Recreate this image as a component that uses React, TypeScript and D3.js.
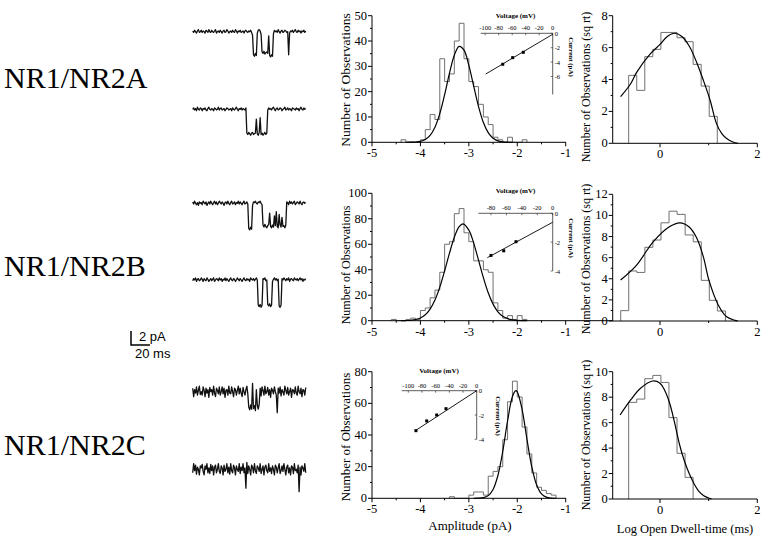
import React from "react";
import * as d3 from "d3";

const SERIF = "Liberation Serif, Times New Roman, DejaVu Serif, serif";
const SANS = "Liberation Sans, Arial, DejaVu Sans, sans-serif";

// ---------------- data ----------------
const rowLabels = ["NR1/NR2A", "NR1/NR2B", "NR1/NR2C"];

// amplitude histograms (pA bins of 0.1)
const ampBinWidth = 0.1;
const ampStartA = -4.4;
const ampCountsA = [1, 0, 0, 0, 1, 5, 11, 9, 33, 24, 27, 40, 47, 33, 24, 22, 15, 10, 7, 2, 1, 0, 2, 0, 0, 1];
const ampStartB = -4.6;
const ampCountsB = [1, 0, 0, 1, 2, 1, 8, 10, 18, 24, 38, 60, 62, 84, 88, 69, 62, 47, 47, 40, 38, 14, 8, 2, 4, 1, 4, 1];
const ampStartC = -3.4;
const ampCountsC = [1, 0, 0, 0, 2, 4, 4, 2, 14, 17, 20, 37, 61, 74, 64, 45, 28, 16, 7, 5, 3, 2];

// gaussian fit curves [amplitude, count]
const ampFitA: [number, number][] = [[-4.3, 0.01], [-4.2, 0.03], [-4.1, 0.11], [-4.0, 0.38], [-3.9, 1.09], [-3.8, 2.72], [-3.7, 5.95], [-3.6, 11.3], [-3.5, 18.8], [-3.4, 27.3], [-3.3, 34.4], [-3.2, 37.9], [-3.1, 36.4], [-3.0, 30.4], [-2.9, 22.2], [-2.8, 14.1], [-2.7, 7.8], [-2.6, 3.8], [-2.5, 1.6], [-2.4, 0.58], [-2.3, 0.19], [-2.2, 0.05], [-2.1, 0.01]];
const ampFitB: [number, number][] = [[-4.4, 0.04], [-4.3, 0.13], [-4.2, 0.36], [-4.1, 0.93], [-4.0, 2.17], [-3.9, 4.65], [-3.8, 9.1], [-3.7, 16.2], [-3.6, 26.4], [-3.5, 39.2], [-3.4, 53.0], [-3.3, 65.5], [-3.2, 73.8], [-3.12, 76], [-3.0, 71.1], [-2.9, 60.9], [-2.8, 47.5], [-2.7, 33.8], [-2.6, 21.9], [-2.5, 13.0], [-2.4, 7.0], [-2.3, 3.5], [-2.2, 1.6], [-2.1, 0.64], [-2.0, 0.24], [-1.9, 0.08], [-1.8, 0.02]];
const ampFitC: [number, number][] = [[-2.9, 0.01], [-2.8, 0.08], [-2.7, 0.42], [-2.6, 1.7], [-2.5, 5.6], [-2.4, 14.4], [-2.3, 29.7], [-2.2, 49.0], [-2.1, 64.3], [-2.03, 68], [-2.0, 67.3], [-1.9, 56.1], [-1.8, 37.3], [-1.7, 19.8], [-1.6, 8.4], [-1.5, 2.8], [-1.4, 0.76], [-1.3, 0.16], [-1.2, 0.03]];

// dwell-time histograms (log ms bins, sqrt counts)
const dwellBinWidth = 0.1656;
const dwellStartA = -0.644;
const dwellCountsA = [4.26, 3.32, 5.43, 5.89, 6.95, 6.95, 6.62, 6.37, 4.95, 3.59, 1.69];
const dwellStartB = -0.808;
const dwellCountsB = [0.98, 4.74, 4.6, 6.98, 7.67, 9.3, 10.4, 10.1, 8.15, 7.5, 3.85, 1.96, 0.95];
const dwellStartC = -0.644;
const dwellCountsC = [7.59, 7.85, 9.45, 9.71, 9.16, 6.39, 3.59, 1.7];

const dwellFitA: [number, number][] = [[-0.81, 2.92], [-0.6, 3.75], [-0.48, 4.45], [-0.2, 5.6], [0, 6.2], [0.15, 6.7], [0.3, 6.9], [0.45, 6.7], [0.6, 6.1], [0.75, 5.1], [0.89, 3.96], [1.03, 2.7], [1.16, 1.25], [1.27, 0.6], [1.37, 0.3], [1.5, 0.08], [1.6, 0]];
const dwellFitB: [number, number][] = [[-0.81, 3.88], [-0.48, 5.3], [-0.14, 7.5], [0.2, 8.94], [0.41, 9.3], [0.6, 8.9], [0.75, 7.9], [0.89, 6.1], [1.01, 3.8], [1.2, 1.5], [1.37, 0.4], [1.54, 0.06], [1.6, 0]];
const dwellFitC: [number, number][] = [[-0.82, 6.6], [-0.6, 7.8], [-0.4, 8.7], [-0.15, 9.27], [0.0, 9.1], [0.1, 8.5], [0.2, 7.5], [0.3, 6.0], [0.4, 4.3], [0.5, 3.0], [0.6, 2.0], [0.7, 1.2], [0.8, 0.6], [0.9, 0.25], [1.0, 0.08], [1.06, 0]];

// I-V insets [mV, pA]
const ivPointsA: [number, number][] = [[-74, -4.3], [-59.3, -3.38], [-43.6, -2.64]];
const ivLineA: [number, number][] = [[-99.3, -5.66], [0, -0.14]];
const ivPointsB: [number, number][] = [[-80, -2.92], [-63.5, -2.6], [-47.6, -1.97]];
const ivLineB: [number, number][] = [[-84.8, -3.08], [0, -0.62]];
const ivPointsC: [number, number][] = [[-88.8, -3.29], [-73.1, -2.49], [-58.5, -2.0], [-44.9, -1.48]];
const ivLineC: [number, number][] = [[-90.3, -3.31], [0, 0]];

// single-channel traces, tenths of pA, 1 ms per sample
const traceA1 = [1,-1,2,0,-2,1,3,-1,0,2,-1,1,0,-2,2,1,-1,3,0,-1,2,0,-1,1,3,-2,0,1,-1,2,0,-2,1,2,-1,0,3,1,-2,0,1,-1,2,0,-1,3,1,-2,1,0,2,-1,0,1,-2,1,2,0,-1,1,0,2,-1,-5,-33,-35,-31,-34,-2,2,3,1,-4,-29,-31,-28,-32,-30,-29,-31,-6,-34,-36,-33,-35,-3,2,0,1,-1,3,0,-2,1,2,-1,0,2,1,-1,0,-33,-2,1,0,2,-1,1,3,0,-1,2,0,1,-2,1,0,2,-1,1];
const traceA2 = [0,2,-1,1,-2,3,0,-1,2,1,-2,1,0,2,-1,-2,1,3,0,-1,1,0,-2,2,1,-1,0,3,-1,1,2,-1,0,1,-2,0,2,1,-1,0,1,-2,2,0,-1,1,3,0,-2,1,0,2,-1,1,0,-1,2,-34,-36,-33,-35,-37,-34,-33,-36,-35,-34,-14,-35,-37,-33,-12,-36,-34,-37,-35,-33,-36,-34,-1,2,0,1,-1,2,3,0,-2,1,2,-1,0,2,1,-2,0,1,3,-1,0,2,-1,1,0,-2,2,1,0,-1,2,0,1,-2,1,3,0,-1,2,0,1];
const traceB1 = [2,-1,3,0,-2,1,-3,2,0,1,-2,3,1,-1,2,-3,0,2,-1,3,0,-2,1,3,-1,2,-2,0,3,1,-1,2,0,-3,1,2,-1,3,0,-2,1,3,-1,0,2,-2,1,0,3,-1,2,0,-2,1,3,-1,0,2,-1,-36,-38,-34,-37,-3,2,1,3,0,-1,2,1,3,0,-2,-31,-34,-30,-33,-35,-32,-30,-14,-33,-35,-31,-34,-18,-32,-12,-33,-35,-16,-31,-34,-20,-33,-32,-35,-31,2,1,-2,3,0,2,-1,1,3,-2,0,2,1,-1,3,0,-2,1,2,0,1];
const traceB2 = [-1,2,0,3,-2,1,2,-1,0,3,1,-2,2,0,-1,3,1,-2,0,2,-1,1,3,-2,0,2,1,-1,3,0,2,-2,1,0,3,-1,2,0,-2,1,3,0,-1,2,1,-2,0,3,1,-1,2,0,-2,1,3,0,-1,2,0,1,-2,3,1,0,2,-1,1,3,0,-36,-38,-35,-39,-36,2,1,3,-1,0,-35,-37,-34,-38,-36,-2,1,3,0,2,-1,1,-37,-39,-36,2,0,3,1,-1,2,0,3,-2,1,2,0,-1,3,1,0,2,-1,1,3,0,2,-2,1,0,2];
const traceC1 = [5,-7,3,-2,7,-5,2,8,-4,0,-5,7,2,-7,5,-2,3,-8,6,0,3,-5,8,-2,-7,5,2,-3,7,-5,0,7,-3,5,-8,2,3,-5,8,-2,-3,7,0,-7,5,3,-5,2,8,-3,5,-2,-7,6,0,-5,3,8,-3,-22,-26,-19,-25,12,-24,-20,-27,3,-19,-25,-18,5,-6,7,2,-5,8,-3,0,6,-5,3,-8,5,2,-3,7,0,-5,-30,5,-2,7,-6,3,0,-5,8,2,-3,6,-5,0,5,-8,3,2,-3,7,-2,-5,8,0,-3,5,-7,3,2,-5,6];
const traceC2 = [-5,8,-2,6,-7,3,0,-8,5,2,7,-3,-8,5,0,8,-5,2,-6,7,-2,5,-8,3,6,-5,0,8,-3,-6,5,2,-8,6,-3,0,8,-5,3,-7,8,-2,-5,6,2,-8,5,0,-3,8,-6,3,-2,8,-5,2,-27,10,-6,5,0,-8,6,3,-5,8,-2,-6,5,2,-3,8,-6,0,5,-8,3,6,-2,-5,8,-3,2,-6,5,0,-8,6,3,-5,2,8,-6,-2,5,-3,8,0,-8,3,6,-5,2,-8,5,3,-6,8,-2,0,-5,6,-32,3,-8,5,2,-3,8,-5];

const scaleBarPA = 2;
const scaleBarMs = 20;

// ---------------- helpers ----------------
type Scale = d3.ScaleLinear<number, number>;

function stepPath(start: number, width: number, counts: number[], xs: Scale, ys: Scale) {
  const pts: [number, number][] = [[start, 0]];
  counts.forEach((c, i) => {
    pts.push([start + i * width, c]);
    pts.push([start + (i + 1) * width, c]);
  });
  pts.push([start + counts.length * width, 0]);
  return d3.line<[number, number]>().x((d) => xs(d[0])).y((d) => ys(d[1]))(pts) || "";
}

function fitPath(pts: [number, number][], xs: Scale, ys: Scale) {
  return d3.line<[number, number]>().x((d) => xs(d[0])).y((d) => ys(d[1])).curve(d3.curveCatmullRom)(pts) || "";
}

interface PanelProps {
  xs: Scale;
  ys: Scale;
  xLeft: number;
  xRight: number;
  xMajor: number[];
  xLabeled: number[];
  xMinor: number[];
  yMajor: number[];
  yMinor: number[];
  start: number;
  width: number;
  counts: number[];
  fit: [number, number][];
  yLabel: string;
  yLabelX: number;
  yLabelY: number;
  yLabelSize: number;
}

function Panel(p: PanelProps) {
  const y0 = p.ys(0);
  const yTop = p.ys(p.ys.domain()[1]);
  return (
    <g>
      <path d={stepPath(p.start, p.width, p.counts, p.xs, p.ys)} fill="none" stroke="#707070" strokeWidth={1} />
      <path d={fitPath(p.fit, p.xs, p.ys)} fill="none" stroke="#000" strokeWidth={1.2} />
      <line x1={p.xLeft} x2={p.xRight} y1={y0} y2={y0} stroke="#000" strokeWidth={1} />
      <line x1={p.xLeft} x2={p.xLeft} y1={y0} y2={yTop} stroke="#000" strokeWidth={1} />
      {p.xMajor.map((v) => (
        <line key={"xM" + v} x1={p.xs(v)} x2={p.xs(v)} y1={y0} y2={y0 + 4} stroke="#000" />
      ))}
      {p.xMinor.map((v) => (
        <line key={"xm" + v} x1={p.xs(v)} x2={p.xs(v)} y1={y0} y2={y0 + 2} stroke="#000" />
      ))}
      {p.xLabeled.map((v) => (
        <text key={"xl" + v} x={p.xs(v)} y={y0 + 15} textAnchor="middle" style={{ fontFamily: SERIF, fontSize: 12.5 }}>
          {v}
        </text>
      ))}
      {p.yMajor.map((v) => (
        <g key={"yM" + v}>
          <line x1={p.xLeft - 4} x2={p.xLeft} y1={p.ys(v)} y2={p.ys(v)} stroke="#000" />
          <text x={p.xLeft - 5} y={p.ys(v) + 4} textAnchor="end" style={{ fontFamily: SERIF, fontSize: 12.5 }}>
            {v}
          </text>
        </g>
      ))}
      {p.yMinor.map((v) => (
        <line key={"ym" + v} x1={p.xLeft - 2} x2={p.xLeft} y1={p.ys(v)} y2={p.ys(v)} stroke="#000" />
      ))}
      <text
        transform={`translate(${p.yLabelX},${p.yLabelY}) rotate(-90)`}
        textAnchor="middle"
        style={{ fontFamily: SERIF, fontSize: p.yLabelSize }}
      >
        {p.yLabel}
      </text>
    </g>
  );
}

interface InsetProps {
  xs: Scale;
  ys: Scale;
  axisLeft: number;
  axisBottomI: number;
  xTicks: number[];
  yTicks: number[];
  points: [number, number][];
  line: [number, number][];
  titleX: number;
  titleY: number;
  curX: number;
  curY: number;
}

function Inset(p: InsetProps) {
  const ax = p.xs(0);
  const ay = p.ys(0);
  const f = { fontFamily: SERIF };
  return (
    <g>
      <line x1={p.axisLeft} x2={ax} y1={ay} y2={ay} stroke="#333" strokeWidth={0.8} />
      <line x1={ax} x2={ax} y1={ay} y2={p.ys(p.axisBottomI)} stroke="#333" strokeWidth={0.8} />
      {p.xTicks.map((v) => (
        <g key={"ix" + v}>
          <line x1={p.xs(v)} x2={p.xs(v)} y1={ay} y2={ay + 2} stroke="#333" strokeWidth={0.7} />
          <text x={p.xs(v)} y={ay - 3} textAnchor="middle" style={{ ...f, fontSize: 6.5 }}>
            {v}
          </text>
        </g>
      ))}
      {p.yTicks.map((v) => (
        <g key={"iy" + v}>
          <line x1={ax - 2} x2={ax} y1={p.ys(v)} y2={p.ys(v)} stroke="#333" strokeWidth={0.7} />
          <text x={ax + 2} y={p.ys(v) + 2.5} style={{ ...f, fontSize: 6.5 }}>
            {v}
          </text>
        </g>
      ))}
      <path
        d={d3.line<[number, number]>().x((d) => p.xs(d[0])).y((d) => p.ys(d[1]))(p.line) || ""}
        stroke="#000"
        strokeWidth={0.9}
        fill="none"
      />
      {p.points.map((d, i) => (
        <rect key={"pt" + i} x={p.xs(d[0]) - 1.5} y={p.ys(d[1]) - 1.5} width={3} height={3} fill="#000" />
      ))}
      <text x={p.titleX} y={p.titleY} textAnchor="middle" style={{ ...f, fontSize: 7, fontWeight: "bold" }}>
        Voltage (mV)
      </text>
      <text
        transform={`translate(${p.curX},${p.curY}) rotate(90)`}
        textAnchor="middle"
        style={{ ...f, fontSize: 7, fontWeight: "bold" }}
      >
        Current (pA)
      </text>
    </g>
  );
}

function Trace({ data, baseline }: { data: number[]; baseline: number }) {
  const xs = d3.scaleLinear().domain([0, 120]).range([192.7, 306.7]);
  const ys = d3.scaleLinear().domain([0, -1]).range([baseline, baseline + 7]);
  const d = d3.line<number>().x((_, i) => xs(i)).y((v) => ys(v / 10))(data) || "";
  return <path d={d} fill="none" stroke="#111" strokeWidth={1.3} strokeLinejoin="round" />;
}

// ---------------- layout ----------------
const ampX = d3.scaleLinear().domain([-5, -1]).range([372, 565.7]);
const dwellX = d3.scaleLinear().domain([0, 2]).range([660, 757.3]);
const dwellLeft = 612.7;

export default function App() {
  const ampYA = d3.scaleLinear().domain([0, 50]).range([142.3, 15.7]);
  const ampYB = d3.scaleLinear().domain([0, 100]).range([320.7, 193.3]);
  const ampYC = d3.scaleLinear().domain([0, 80]).range([498.3, 371.7]);
  const dwYA = d3.scaleLinear().domain([0, 8]).range([143.3, 15.7]);
  const dwYB = d3.scaleLinear().domain([0, 12]).range([321, 194.3]);
  const dwYC = d3.scaleLinear().domain([0, 10]).range([499, 371.7]);

  const ampXMajor = [-5, -4, -3, -2, -1];
  const ampXMinor = [-4.5, -3.5, -2.5, -1.5];
  const dwXMajor = [0, 2];
  const dwXMinor = [1];

  const ivXA = d3.scaleLinear().domain([-100, 0]).range([485.2, 552.7]);
  const ivYA = d3.scaleLinear().domain([0, -6]).range([33.3, 76.5]);
  const ivXB = d3.scaleLinear().domain([-80, 0]).range([491, 552.7]);
  const ivYB = d3.scaleLinear().domain([0, -4]).range([213.3, 271]);
  const ivXC = d3.scaleLinear().domain([-100, 0]).range([408.3, 476.7]);
  const ivYC = d3.scaleLinear().domain([0, -4]).range([390.7, 439.3]);

  const sbX = d3.scaleLinear().domain([0, 120]).range([192.7, 306.7]);
  const sbLen = sbX(scaleBarMs) - sbX(0);
  const sbH = scaleBarPA * 7;

  return (
    <svg width={777} height={546} style={{ position: "absolute", left: 0, top: 0, background: "#fff" }}>
      <rect width={777} height={546} fill="#fff" />
      {/* row labels */}
      {rowLabels.map((t, i) => (
        <text key={t} x={4} y={[88, 276, 455][i]} style={{ fontFamily: SERIF, fontSize: 30 }}>
          {t}
        </text>
      ))}

      {/* traces */}
      <Trace data={traceA1} baseline={31.7} />
      <Trace data={traceA2} baseline={109.3} />
      <Trace data={traceB1} baseline={203.3} />
      <Trace data={traceB2} baseline={280} />
      <Trace data={traceC1} baseline={391.7} />
      <Trace data={traceC2} baseline={469.3} />

      {/* scale bar */}
      <path d={`M131,${345 - sbH}V345H${131 + sbLen}`} fill="none" stroke="#000" strokeWidth={1.5} />
      <text x={139} y={341} style={{ fontFamily: SANS, fontSize: 13 }}>
        {scaleBarPA} pA
      </text>
      <text x={135} y={358} style={{ fontFamily: SANS, fontSize: 13 }}>
        {scaleBarMs} ms
      </text>

      {/* amplitude panels */}
      <Panel xs={ampX} ys={ampYA} xLeft={372} xRight={566} xMajor={ampXMajor} xLabeled={ampXMajor} xMinor={ampXMinor}
        yMajor={[0, 10, 20, 30, 40, 50]} yMinor={[5, 15, 25, 35, 45]} start={ampStartA} width={ampBinWidth}
        counts={ampCountsA} fit={ampFitA} yLabel="Number of Observations" yLabelX={350} yLabelY={80} yLabelSize={13.5} />
      <Panel xs={ampX} ys={ampYB} xLeft={372} xRight={612.7} xMajor={ampXMajor} xLabeled={ampXMajor} xMinor={ampXMinor}
        yMajor={[0, 20, 40, 60, 80, 100]} yMinor={[10, 30, 50, 70, 90]} start={ampStartB} width={ampBinWidth}
        counts={ampCountsB} fit={ampFitB} yLabel="Number of Observations" yLabelX={350} yLabelY={265} yLabelSize={12} />
      <Panel xs={ampX} ys={ampYC} xLeft={372} xRight={566} xMajor={ampXMajor} xLabeled={ampXMajor} xMinor={ampXMinor}
        yMajor={[0, 20, 40, 60, 80]} yMinor={[10, 30, 50, 70]} start={ampStartC} width={ampBinWidth}
        counts={ampCountsC} fit={ampFitC} yLabel="Number of Observations" yLabelX={350} yLabelY={437} yLabelSize={13} />

      {/* dwell panels */}
      <Panel xs={dwellX} ys={dwYA} xLeft={dwellLeft} xRight={757.3} xMajor={dwXMajor} xLabeled={dwXMajor} xMinor={dwXMinor}
        yMajor={[0, 2, 4, 6, 8]} yMinor={[1, 3, 5, 7]} start={dwellStartA} width={dwellBinWidth}
        counts={dwellCountsA} fit={dwellFitA} yLabel="Number of Observations (sq rt)" yLabelX={590} yLabelY={87} yLabelSize={12} />
      <Panel xs={dwellX} ys={dwYB} xLeft={dwellLeft} xRight={757.3} xMajor={dwXMajor} xLabeled={dwXMajor} xMinor={dwXMinor}
        yMajor={[0, 2, 4, 6, 8, 10, 12]} yMinor={[1, 3, 5, 7, 9, 11]} start={dwellStartB} width={dwellBinWidth}
        counts={dwellCountsB} fit={dwellFitB} yLabel="Number of Observations (sq rt)" yLabelX={590} yLabelY={259} yLabelSize={12} />
      <Panel xs={dwellX} ys={dwYC} xLeft={dwellLeft} xRight={757.3} xMajor={dwXMajor} xLabeled={dwXMajor} xMinor={dwXMinor}
        yMajor={[0, 2, 4, 6, 8, 10]} yMinor={[1, 3, 5, 7, 9]} start={dwellStartC} width={dwellBinWidth}
        counts={dwellCountsC} fit={dwellFitC} yLabel="Number of Observations (sq rt)" yLabelX={590} yLabelY={435} yLabelSize={12} />

      {/* insets */}
      <Inset xs={ivXA} ys={ivYA} axisLeft={480.7} axisBottomI={-8.5} xTicks={[-100, -80, -60, -40, -20, 0]} yTicks={[0, -2, -4, -6]}
        points={ivPointsA} line={ivLineA} titleX={515.5} titleY={18} curX={569} curY={57} />
      <Inset xs={ivXB} ys={ivYB} axisLeft={478.3} axisBottomI={-4} xTicks={[-80, -60, -40, -20, 0]} yTicks={[0, -2, -4]}
        points={ivPointsB} line={ivLineB} titleX={515.5} titleY={193} curX={569} curY={238} />
      <Inset xs={ivXC} ys={ivYC} axisLeft={401.7} axisBottomI={-4} xTicks={[-100, -80, -60, -40, -20, 0]} yTicks={[0, -2, -4]}
        points={ivPointsC} line={ivLineC} titleX={439} titleY={372.5} curX={495.7} curY={416} />

      {/* x axis titles */}
      <text x={470} y={530} textAnchor="middle" style={{ fontFamily: SERIF, fontSize: 13 }}>
        Amplitude (pA)
      </text>
      <text x={685} y={533} textAnchor="middle" style={{ fontFamily: SERIF, fontSize: 12.5 }}>
        Log Open Dwell-time (ms)
      </text>
    </svg>
  );
}
